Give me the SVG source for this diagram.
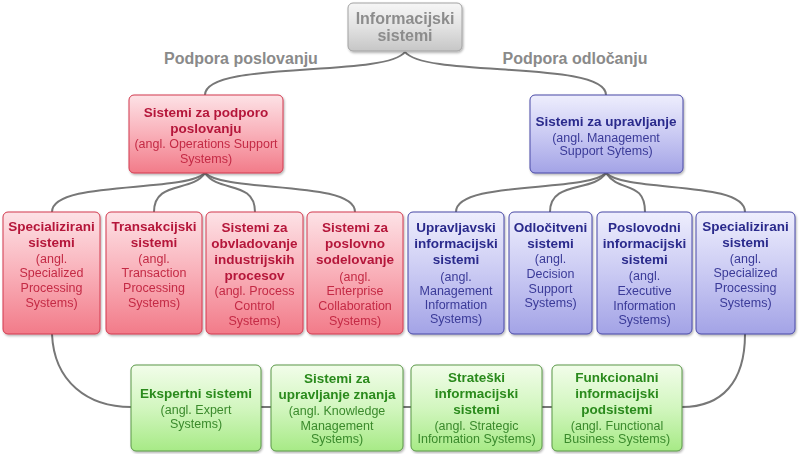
<svg xmlns="http://www.w3.org/2000/svg" width="800" height="454" viewBox="0 0 800 454">
<defs>
<linearGradient id="gGray" x1="0" y1="0" x2="0" y2="1"><stop offset="0" stop-color="#f6f6f6"/><stop offset="0.5" stop-color="#e2e2e2"/><stop offset="1" stop-color="#c6c6c6"/></linearGradient>
<linearGradient id="gRed" x1="0" y1="0" x2="0" y2="1"><stop offset="0" stop-color="#fde2e6"/><stop offset="0.5" stop-color="#f9b0b9"/><stop offset="1" stop-color="#f27b89"/></linearGradient>
<linearGradient id="gBlue" x1="0" y1="0" x2="0" y2="1"><stop offset="0" stop-color="#eeeefd"/><stop offset="0.5" stop-color="#cacaf3"/><stop offset="1" stop-color="#a3a3e6"/></linearGradient>
<linearGradient id="gGreen" x1="0" y1="0" x2="0" y2="1"><stop offset="0" stop-color="#f2fdea"/><stop offset="0.5" stop-color="#d2f6bf"/><stop offset="1" stop-color="#a7ea86"/></linearGradient>
<filter id="sh" x="-10%" y="-10%" width="120%" height="120%"><feDropShadow dx="1" dy="1.5" stdDeviation="1.2" flood-color="#000" flood-opacity="0.3"/></filter>
</defs>
<style>
text{font-family:"Liberation Sans",Arial,sans-serif;text-anchor:middle}
.b{font-weight:bold;font-size:13.5px}
.n{font-size:12.5px}
.box{filter:url(#sh)}
.gray rect{fill:url(#gGray);stroke:#a2a2a2;stroke-width:1}
.gray text{fill:#8c8c8c}
.red rect{fill:url(#gRed);stroke:#d23a4e;stroke-width:1}
.red .b{fill:#b5173a}.red .n{fill:#c42a45}
.blue rect{fill:url(#gBlue);stroke:#4848a6;stroke-width:1}
.blue .b{fill:#2a2a8c}.blue .n{fill:#3a3a98}
.green rect{fill:url(#gGreen);stroke:#5a9848;stroke-width:1}
.green .b{fill:#2a8a1c}.green .n{fill:#3a8a2c}
.lbl{font-weight:bold;font-size:16px;fill:#8a8a8a}
#connectors path{fill:none;stroke:#777;stroke-width:2}
</style>

<g id="connectors">
<path d="M405,52 C385,78 205,60 205,95"/>
<path d="M405,52 C425,78 606,60 606,95"/>
<path d="M205,173 C185,193 52,180 52,212"/>
<path d="M205,173 C192,193 154,180 154,212"/>
<path d="M205,173 C218,193 255,180 255,212"/>
<path d="M205,173 C225,193 355,180 355,212"/>
<path d="M606,173 C586,193 456,180 456,212"/>
<path d="M606,173 C593,193 550,180 550,212"/>
<path d="M606,173 C619,193 645,180 645,212"/>
<path d="M606,173 C626,193 745,180 745,212"/>
<path d="M52,334 C54,382 88,407 131,407"/>
<path d="M261,407 L271,407"/>
<path d="M403,407 L411,407"/>
<path d="M542,407 L552,407"/>
<path d="M682,407 C722,407 745,382 745,334"/>
</g>

<text class="lbl" x="241" y="64">Podpora poslovanju</text>
<text class="lbl" x="575" y="64">Podpora odločanju</text>

<g id="n-root" class="box gray">
<rect x="348" y="3" width="114" height="48" rx="5"/>
<text style="font-weight:bold;font-size:16px" x="405" y="24">Informacijski</text>
<text style="font-weight:bold;font-size:16px" x="405" y="41">sistemi</text>
</g>

<g id="n-podpora" class="box red">
<rect x="129" y="95" width="154" height="78" rx="5"/>
<text class="b" x="206" y="117">Sistemi za podporo</text>
<text class="b" x="206" y="133">poslovanju</text>
<text class="n" x="206" y="147.5">(angl. Operations Support</text>
<text class="n" x="206" y="162.5">Systems)</text>
</g>

<g id="n-upravljanje" class="box blue">
<rect x="530" y="95" width="153" height="78" rx="5"/>
<text class="b" x="606" y="126">Sistemi za upravljanje</text>
<text class="n" x="606" y="141.5">(angl. Management</text>
<text class="n" x="606" y="155">Support Sytems)</text>
</g>

<g id="n-spec1" class="box red">
<rect x="3" y="212" width="97" height="122" rx="5"/>
<text class="b" x="51.5" y="231">Specializirani</text>
<text class="b" x="51.5" y="247">sistemi</text>
<text class="n" x="51.5" y="262.5">(angl.</text>
<text class="n" x="51.5" y="277">Specialized</text>
<text class="n" x="51.5" y="292">Processing</text>
<text class="n" x="51.5" y="306.5">Systems)</text>
</g>

<g id="n-trans" class="box red">
<rect x="106" y="212" width="96" height="122" rx="5"/>
<text class="b" x="154" y="231">Transakcijski</text>
<text class="b" x="154" y="247">sistemi</text>
<text class="n" x="154" y="262.5">(angl.</text>
<text class="n" x="154" y="277">Transaction</text>
<text class="n" x="154" y="292">Processing</text>
<text class="n" x="154" y="306.5">Systems)</text>
</g>

<g id="n-proc" class="box red">
<rect x="206" y="212" width="97" height="122" rx="5"/>
<text class="b" x="254.5" y="232">Sistemi za</text>
<text class="b" x="254.5" y="248">obvladovanje</text>
<text class="b" x="254.5" y="264">industrijskih</text>
<text class="b" x="254.5" y="280">procesov</text>
<text class="n" x="254.5" y="294.5">(angl. Process</text>
<text class="n" x="254.5" y="309.5">Control</text>
<text class="n" x="254.5" y="324.5">Systems)</text>
</g>

<g id="n-sodel" class="box red">
<rect x="307" y="212" width="96" height="122" rx="5"/>
<text class="b" x="355" y="232">Sistemi za</text>
<text class="b" x="355" y="248">poslovno</text>
<text class="b" x="355" y="264">sodelovanje</text>
<text class="n" x="355" y="281">(angl.</text>
<text class="n" x="355" y="294.5">Enterprise</text>
<text class="n" x="355" y="309.5">Collaboration</text>
<text class="n" x="355" y="324.5">Systems)</text>
</g>

<g id="n-upravljavski" class="box blue">
<rect x="408" y="212" width="96" height="122" rx="5"/>
<text class="b" x="456" y="232">Upravljavski</text>
<text class="b" x="456" y="248">informacijski</text>
<text class="b" x="456" y="264">sistemi</text>
<text class="n" x="456" y="281">(angl.</text>
<text class="n" x="456" y="294.5">Management</text>
<text class="n" x="456" y="309">Information</text>
<text class="n" x="456" y="323">Systems)</text>
</g>

<g id="n-odlocitveni" class="box blue">
<rect x="509" y="212" width="83" height="122" rx="5"/>
<text class="b" x="550.5" y="232">Odločitveni</text>
<text class="b" x="550.5" y="248">sistemi</text>
<text class="n" x="550.5" y="262.5">(angl.</text>
<text class="n" x="550.5" y="277.5">Decision</text>
<text class="n" x="550.5" y="292.5">Support</text>
<text class="n" x="550.5" y="307">Systems)</text>
</g>

<g id="n-poslovodni" class="box blue">
<rect x="597" y="212" width="95" height="122" rx="5"/>
<text class="b" x="644.5" y="232">Poslovodni</text>
<text class="b" x="644.5" y="248">informacijski</text>
<text class="b" x="644.5" y="264">sistemi</text>
<text class="n" x="644.5" y="280">(angl.</text>
<text class="n" x="644.5" y="294.5">Executive</text>
<text class="n" x="644.5" y="309.5">Information</text>
<text class="n" x="644.5" y="324">Systems)</text>
</g>

<g id="n-spec2" class="box blue">
<rect x="696" y="212" width="99" height="122" rx="5"/>
<text class="b" x="745.5" y="231">Specializirani</text>
<text class="b" x="745.5" y="247">sistemi</text>
<text class="n" x="745.5" y="262.5">(angl.</text>
<text class="n" x="745.5" y="277">Specialized</text>
<text class="n" x="745.5" y="292">Processing</text>
<text class="n" x="745.5" y="306.5">Systems)</text>
</g>

<g id="n-ekspertni" class="box green">
<rect x="131" y="365" width="130" height="86" rx="5"/>
<text class="b" x="196" y="398">Ekspertni sistemi</text>
<text class="n" x="196" y="413.5">(angl. Expert</text>
<text class="n" x="196" y="427.5">Systems)</text>
</g>

<g id="n-znanje" class="box green">
<rect x="271" y="365" width="132" height="86" rx="5"/>
<text class="b" x="337" y="383">Sistemi za</text>
<text class="b" x="337" y="399">upravljanje znanja</text>
<text class="n" x="337" y="414.5">(angl. Knowledge</text>
<text class="n" x="337" y="429.5">Management</text>
<text class="n" x="337" y="443">Systems)</text>
</g>

<g id="n-strateski" class="box green">
<rect x="411" y="365" width="131" height="86" rx="5"/>
<text class="b" x="476.5" y="382">Strateški</text>
<text class="b" x="476.5" y="398">informacijski</text>
<text class="b" x="476.5" y="414">sistemi</text>
<text class="n" x="476.5" y="429.5">(angl. Strategic</text>
<text class="n" x="476.5" y="443">Information Systems)</text>
</g>

<g id="n-funkcionalni" class="box green">
<rect x="552" y="365" width="130" height="86" rx="5"/>
<text class="b" x="617" y="382">Funkcionalni</text>
<text class="b" x="617" y="398">informacijski</text>
<text class="b" x="617" y="414">podsistemi</text>
<text class="n" x="617" y="429.5">(angl. Functional</text>
<text class="n" x="617" y="443">Business Systems)</text>
</g>
</svg>
